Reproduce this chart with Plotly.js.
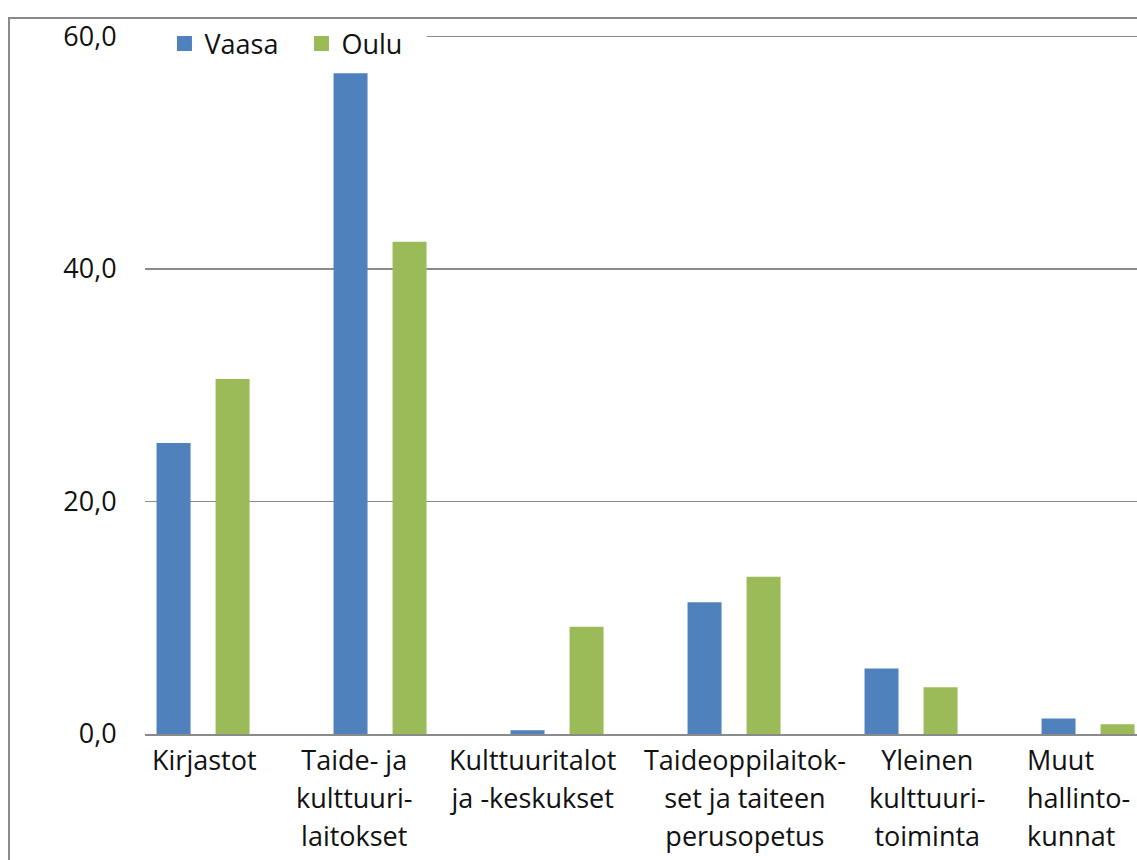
<!DOCTYPE html>
<html><head><meta charset="utf-8">
<script src="https://cdn.plot.ly/plotly-3.0.1.min.js"></script>
<style>
html,body{margin:0;padding:0;overflow:hidden;background:#fff;width:1137px;height:860px;}
#frame{position:absolute;left:8px;top:17px;width:1300px;height:950px;border-left:2px solid #8a8a8a;border-top:2px solid #8a8a8a;}
#chart{width:1300px;height:950px;}
</style></head><body>
<div id="frame"><div id="chart"></div></div>
<script>
const categories = ['Kirjastot','Taide- ja<br>kulttuuri-<br>laitokset','Kulttuuritalot<br>ja -keskukset','Taideoppilaitok-<br>set ja taiteen<br>perusopetus','Yleinen<br>kulttuuri-<br>toiminta','Muut<br>hallinto-<br>kunnat'];
const seriesNames = ['Vaasa','Oulu'];
const vaasa = [24.9, 56.7, 0.2, 11.2, 5.5, 1.2];
const oulu = [30.4, 42.2, 9.1, 13.4, 3.9, 0.7];
const yTicks = [0, 20, 40, 60];

const FONT = '"Open Sans", "Noto Sans", sans-serif';
const TXT = '#111';
const labelShift = [1, -26, -25, 11, 16, -63];
const labelAlign = ['center','center','center','center','center','left'];

const traces = [
  {type:'bar', name:seriesNames[0], x:categories, y:vaasa, marker:{color:'#4F81BD', line:{color:'#4F81BD', width:3}}},
  {type:'bar', name:seriesNames[1], x:categories, y:oulu, marker:{color:'#9BBB59', line:{color:'#9BBB59', width:3}}}
];
const annotations = categories.map((c, i) => ({
  xref:'x', yref:'y', x:c, y:0,
  text: c.split('<br>').map(s => '<span style="font-size:27px">' + s + '</span>').join('<br>'),
  showarrow:false, xanchor: labelAlign[i] === 'left' ? 'left' : 'center', align: labelAlign[i],
  yanchor:'top', xshift: labelShift[i], yshift:-5,
  font:{family:FONT, size:29.4, color:TXT}
}));
const layout = {
  width:1300, height:950,
  margin:{l:135, r:0, t:15, b:235, autoexpand:false},
  paper_bgcolor:'#fff', plot_bgcolor:'#fff',
  font:{family:FONT, size:27, color:TXT},
  separators:', ',
  barmode:'group', bargap:0.333, bargroupgap:0.475,
  xaxis:{type:'category', range:[-0.328, 6.254], showgrid:false, showline:true, linecolor:'#8a8a8a', linewidth:2,
         showticklabels:false, ticks:'', automargin:false, fixedrange:true},
  yaxis:{range:[0,60.2], tickmode:'array', tickvals:yTicks, tickformat:'.1f', showgrid:true, gridcolor:'#8a8a8a', gridwidth:1.5,
         zeroline:false, showline:false, ticks:'outside', ticklen:22, tickcolor:'rgba(0,0,0,0)', automargin:false,
         ticklabeloverflow:'allow',
         tickfont:{family:FONT, size:27, color:TXT}, fixedrange:true},
  legend:{orientation:'h', x:0.0167, xanchor:'left', y:0.9857, yanchor:'middle', bgcolor:'rgba(0,0,0,0)',
          font:{family:FONT, size:27, color:TXT}, entrywidth:92, entrywidthmode:'pixels'},
  shapes:[{type:'rect', xref:'paper', yref:'paper', x0:0, x1:0.242, y0:0.99, y1:1.01, fillcolor:'#fff', line:{width:0}, layer:'above'}],
  annotations: annotations,
  showlegend:true
};
Plotly.newPlot('chart', traces, layout, {displayModeBar:false, staticPlot:true});
</script>
</body></html>
